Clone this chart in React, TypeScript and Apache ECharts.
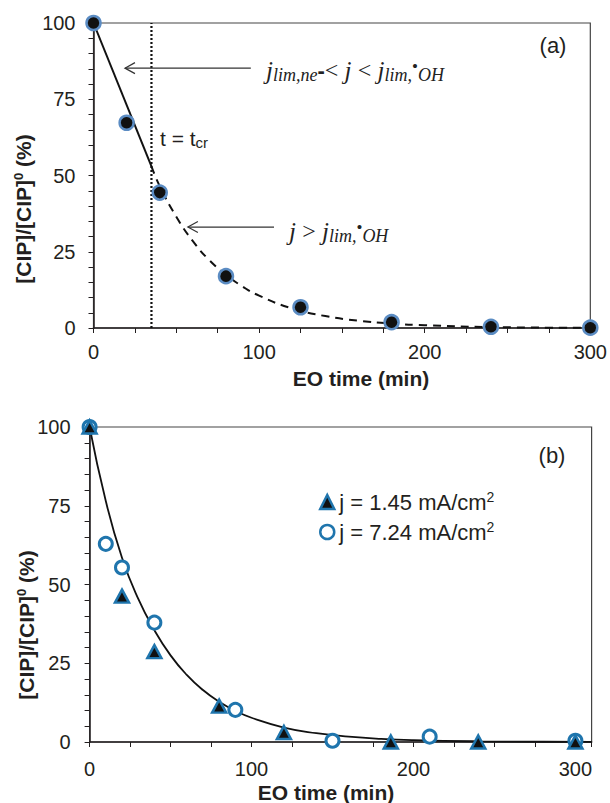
import React, { useEffect, useRef } from "react";
import * as echarts from "echarts";

// ---- Panel (a) data ----
const timeA = [0, 20, 40, 80, 125, 180, 240, 300];
const cipA = [100, 67.3, 44.4, 17, 6.8, 1.9, 0.4, 0.1];
const tCr = 35;
const solidFitT = [0, 35];
const solidFitY = [100, 53];
const dashFitT = [35, 40, 50, 60, 70, 80, 90, 100, 120, 140, 160, 180, 200, 240, 300];
const dashFitY = [53, 46.5, 36.5, 28.5, 22.2, 17.5, 13.6, 10.6, 6.4, 3.9, 2.4, 1.45, 0.9, 0.3, 0.05];
// arrows: [xStart, y, xEnd, y]
const arrowsA = [
  [95, 85.2, 19, 85.2],
  [109, 33.1, 57, 33.1],
];

// ---- Panel (b) data ----
const nameB1 = "j = 1.45 mA/cm2";
const nameB2 = "j = 7.24 mA/cm2";
const timeB1 = [0, 20, 40, 80, 120, 186, 240, 300];
const cipB1 = [100, 46.3, 28.7, 11.4, 3, 0, 0, 0];
const timeB2 = [0, 10, 20, 40, 90, 150, 210, 300];
const cipB2 = [100, 62.9, 55.4, 37.9, 10.2, 0.4, 1.7, 0.4];
const fitBT = [0, 10, 20, 30, 40, 50, 60, 70, 80, 90, 100, 120, 140, 160, 180, 200, 240, 280, 310];
const fitBY = [100, 76.5, 58.5, 45.5, 35.5, 27.5, 21.3, 16.5, 12.8, 9.9, 7.7, 4.6, 2.8, 1.7, 1.0, 0.6, 0.22, 0.08, 0.04];

const yTicks = [0, 25, 50, 75, 100];
const xTicks = [0, 100, 200, 300];

const FONT = "Liberation Sans, Arial, sans-serif";
const SERIF = "Liberation Serif, DejaVu Serif, serif";
const INK = "#231f20";
const BLUE_A = "#5b8cc3";
const BLUE_B = "#1f75ad";

const zip = (a: number[], b: number[]) => a.map((v, i) => [v, b[i]]);

export default function App() {
  const ref = useRef<HTMLDivElement>(null);
  useEffect(() => {
    document.body.style.margin = "0";
    const chart = echarts.init(ref.current!, undefined, { renderer: "svg" });

    const yAxisBase = (gridIndex: number, margin: number) => ({
      type: "value",
      gridIndex,
      min: 0,
      max: 100,
      interval: 5,
      axisLine: { show: true, lineStyle: { color: INK, width: 1.5 } },
      axisTick: { show: true, length: 5, inside: false, lineStyle: { color: INK, width: 1 } },
      splitLine: { show: false },
      axisLabel: {
        margin,
        fontSize: 20,
        fontFamily: FONT,
        color: INK,
        formatter: (v: number) => (yTicks.includes(v) ? String(v) : ""),
      },
    });
    const xAxisBase = (gridIndex: number, max: number, margin: number) => ({
      type: "value",
      gridIndex,
      min: 0,
      max,
      interval: 25,
      axisLine: { show: true, onZero: false, lineStyle: { color: INK, width: 1.5 } },
      axisTick: { show: true, length: 5, lineStyle: { color: INK, width: 1 } },
      splitLine: { show: false },
      axisLabel: {
        margin,
        fontSize: 20,
        fontFamily: FONT,
        color: INK,
        showMaxLabel: true,
        formatter: (v: number) => (xTicks.includes(v) ? String(v) : ""),
      },
    });

    const arrowRender = (params: any, api: any) => {
      const p1 = api.coord([api.value(0), api.value(1)]);
      const p2 = api.coord([api.value(2), api.value(3)]);
      return {
        type: "group",
        children: [
          { type: "line", shape: { x1: p1[0], y1: p1[1], x2: p2[0], y2: p2[1] }, style: { stroke: "#333", lineWidth: 1.2 } },
          {
            type: "polyline",
            shape: { points: [[p2[0] + 10, p2[1] - 5.5], [p2[0], p2[1]], [p2[0] + 10, p2[1] + 5.5]] },
            style: { stroke: "#333", fill: "none", lineWidth: 1.2 },
          },
        ],
      };
    };

    const yTitle = (x: number, y: number) => ({
      type: "text",
      x,
      y,
      rotation: Math.PI / 2,
      style: {
        text: "{b|[CIP]/[CIP]}{s|0}{b| (%)}",
        align: "center",
        verticalAlign: "middle",
        fill: INK,
        rich: {
          b: { fontSize: 21, fontWeight: "bold", fontFamily: FONT, fill: INK, lineHeight: 23 },
          s: { fontSize: 13, fontWeight: "bold", fontFamily: FONT, fill: INK, verticalAlign: "top", lineHeight: 14 },
        },
      },
    });
    const xTitle = (x: number, y: number) => ({
      type: "text",
      x,
      y,
      style: {
        text: "EO time (min)",
        align: "center",
        verticalAlign: "middle",
        fill: INK,
        font: `bold 21px ${FONT}`,
      },
    });

    const jRich = {
      m: { fontSize: 25, fontStyle: "italic", fontFamily: SERIF, fill: "#222", lineHeight: 28, verticalAlign: "middle" },
      n: { fontSize: 24, fontFamily: SERIF, fill: "#222", lineHeight: 28, verticalAlign: "middle" },
      sub: { fontSize: 18, fontStyle: "italic", fontFamily: SERIF, fill: "#222", lineHeight: 18, verticalAlign: "bottom", padding: [7, 0, 0, 0] },
      dot: { fontSize: 17, fontFamily: SERIF, fill: "#222", lineHeight: 16, verticalAlign: "top", padding: [2, 0, 0, 0] },
      dash: { fontSize: 22, fontWeight: "bold", fontFamily: FONT, fill: "#222", lineHeight: 28, verticalAlign: "middle" },
    };

    chart.setOption({
      animation: false,
      backgroundColor: "#fff",
      grid: [
        { left: 93.5, top: 23, width: 498.5, height: 305, show: true, borderColor: "#444", borderWidth: 1.2, backgroundColor: "transparent" },
        { left: 89.6, top: 427, width: 502, height: 315, show: true, borderColor: "#444", borderWidth: 1.2, backgroundColor: "transparent" },
      ],
      xAxis: [xAxisBase(0, 300, 14), xAxisBase(1, 310, 17)],
      yAxis: [yAxisBase(0, 18), yAxisBase(1, 19)],
      legend: {
        orient: "vertical",
        left: 319,
        top: 490,
        padding: 0,
        itemWidth: 14,
        itemHeight: 14,
        itemGap: 7,
        data: [nameB1, nameB2],
        itemStyle: { borderWidth: 2.5 },
        textStyle: {
          fontSize: 22,
          fontFamily: FONT,
          color: INK,
          rich: {
            m: { fontSize: 22, fontFamily: FONT, color: INK, lineHeight: 24 },
            s: { fontSize: 14, fontFamily: FONT, color: INK, verticalAlign: "top", lineHeight: 14 },
          },
        },
        formatter: (name: string) => (name === nameB1 ? "{m|j = 1.45 mA/cm}{s|2}" : "{m|j = 7.24 mA/cm}{s|2}"),
      },
      series: [
        // Panel (a)
        {
          type: "line",
          xAxisIndex: 0,
          yAxisIndex: 0,
          data: [[tCr, 0], [tCr, 100]],
          symbol: "none",
          lineStyle: { color: "#111", width: 2.2, type: [2, 2] },
          z: 2,
        },
        {
          type: "line",
          xAxisIndex: 0,
          yAxisIndex: 0,
          data: zip(solidFitT, solidFitY),
          symbol: "none",
          lineStyle: { color: "#111", width: 2 },
          z: 3,
        },
        {
          type: "line",
          xAxisIndex: 0,
          yAxisIndex: 0,
          data: zip(dashFitT, dashFitY),
          symbol: "none",
          smooth: true,
          lineStyle: { color: "#111", width: 2, type: [8, 6] },
          z: 3,
        },
        {
          type: "custom",
          xAxisIndex: 0,
          yAxisIndex: 0,
          data: arrowsA,
          renderItem: arrowRender,
          clip: false,
          silent: true,
          z: 4,
        },
        {
          type: "scatter",
          xAxisIndex: 0,
          yAxisIndex: 0,
          data: zip(timeA, cipA),
          symbol: "circle",
          symbolSize: 14,
          clip: false,
          itemStyle: { color: "#111", borderColor: BLUE_A, borderWidth: 2.5, opacity: 1 },
          z: 5,
        },
        // Panel (b)
        {
          type: "line",
          xAxisIndex: 1,
          yAxisIndex: 1,
          data: zip(fitBT, fitBY),
          symbol: "none",
          smooth: true,
          lineStyle: { color: "#111", width: 1.8 },
          z: 3,
        },
        {
          name: nameB2,
          type: "scatter",
          xAxisIndex: 1,
          yAxisIndex: 1,
          data: zip(timeB2, cipB2),
          symbol: "circle",
          symbolSize: 13,
          clip: false,
          itemStyle: { color: "#fff", borderColor: BLUE_B, borderWidth: 3, opacity: 1 },
          z: 5,
        },
        {
          name: nameB1,
          type: "scatter",
          xAxisIndex: 1,
          yAxisIndex: 1,
          data: zip(timeB1, cipB1),
          symbol: "triangle",
          symbolSize: [14, 13],
          clip: false,
          itemStyle: { color: "#111", borderColor: BLUE_B, borderWidth: 2.5, opacity: 1 },
          z: 6,
        },
      ],
      graphic: [
        yTitle(23, 209),
        yTitle(26, 625),
        xTitle(361, 378),
        xTitle(326, 792),
        { type: "text", x: 553, y: 45, style: { text: "(a)", align: "center", verticalAlign: "middle", fill: INK, font: `22px ${FONT}` } },
        { type: "text", x: 552, y: 455, style: { text: "(b)", align: "center", verticalAlign: "middle", fill: INK, font: `22px ${FONT}` } },
        {
          type: "text",
          x: 160,
          y: 138,
          style: {
            text: "{n|t = t}{s|cr}",
            verticalAlign: "middle",
            fill: INK,
            rich: {
              n: { fontSize: 21, fontFamily: FONT, fill: INK, lineHeight: 23, verticalAlign: "middle" },
              s: { fontSize: 15, fontFamily: FONT, fill: INK, lineHeight: 15, verticalAlign: "bottom", padding: [6, 0, 0, 0] },
            },
          },
        },
        {
          type: "text",
          x: 266,
          y: 70,
          style: {
            text: "{m|j}{sub|lim,ne}{dash|-}{n|<}{m| j }{n|<}{m| j}{sub|lim,}{dot|•}{sub|OH}",
            verticalAlign: "middle",
            rich: jRich,
          },
        },
        {
          type: "text",
          x: 289,
          y: 231,
          style: {
            text: "{m|j }{n|>}{m| j}{sub|lim,}{dot|•}{sub|OH}",
            verticalAlign: "middle",
            rich: jRich,
          },
        },
      ],
    });
    return () => chart.dispose();
  }, []);
  return <div ref={ref} style={{ width: 610, height: 803, position: "absolute", left: 0, top: 0 }} />;
}
